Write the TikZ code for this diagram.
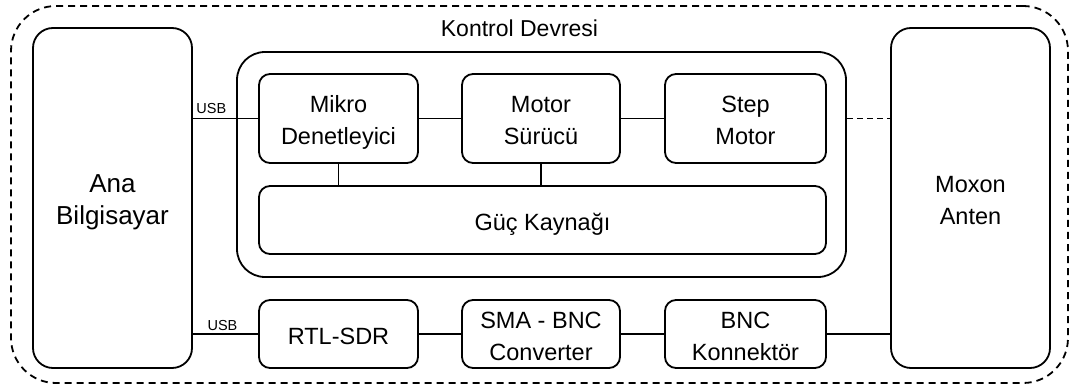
\documentclass[tikz,border=0pt]{standalone}
\usepackage{fontspec}
\setmainfont{Liberation Sans}
\newcommand{\topst}{\rule{0pt}{28pt}}
\newcommand{\botst}{\rule[-7pt]{0pt}{7pt}}
\begin{document}
\begin{tikzpicture}[x=1pt,y=1pt,
  box/.style={draw, line width=1.8pt, rounded corners=11pt, align=center, inner sep=0pt,
    font=\fontsize{23.5pt}{32pt}\selectfont},
  one/.style={box, text height=22pt, text depth=0pt},
  big/.style={box, rounded corners=20pt, minimum width=159pt, minimum height=340pt},
  conn/.style={line width=1.8pt},
  usb/.style={font=\fontsize{14.5pt}{17pt}\selectfont, inner sep=0pt, anchor=base},
]
\useasboundingbox (0,0) rectangle (1074,388);
\fill[white] (0,0) rectangle (1074,388);
% outer dashed frame
\node[draw, line width=1.8pt, dash pattern=on 7pt off 5pt, rounded corners=45pt,
  minimum width=1057pt, minimum height=377pt, inner sep=0pt] (frame) at (539.5,193.5) {};
\node[usb, font=\fontsize{23pt}{28pt}\selectfont] (klabel) at (519.5,351.3) {Kontrol Devresi};
% big side boxes
\node[big, font=\fontsize{26pt}{32pt}\selectfont] (ana) at (112.5,190) {\topst Ana\\Bilgisayar\botst};
\node[big] (moxon) at (970.5,190) {\topst Moxon\\Anten\botst};
% control circuit
\node[draw, line width=1.8pt, rounded corners=28pt, minimum width=609pt, minimum height=225pt] (kontrol) at (541.5,223.5) {};
\node[box, minimum width=159pt, minimum height=89pt] (mikro) at (338.5,269.5) {\topst Mikro\\Denetleyici\botst};
\node[box, minimum width=158pt, minimum height=89pt] (motor) at (541,269.5) {\topst Motor\\Sürücü\botst};
\node[box, minimum width=161pt, minimum height=89pt] (step) at (745.5,269.5) {\topst Step\\Motor\botst};
\node[one, minimum width=567pt, minimum height=68pt] (guc) at (542.5,168) {Güç Kaynağı};
% bottom row
\node[one, minimum width=159pt, minimum height=68pt] (rtl) at (338.5,54) {RTL-SDR};
\node[box, minimum width=158pt, minimum height=68pt] (sma) at (541,54) {\topst SMA - BNC\\Converter\botst};
\node[box, minimum width=161pt, minimum height=68pt] (bnc) at (745.5,54) {\topst BNC\\Konnektör\botst};
% connectors
\draw[conn] (ana.east |- mikro.west) -- (mikro.west);
\draw[conn] (mikro) -- (motor);
\draw[conn] (motor) -- (step);
\draw[conn] (mikro.south) -- (mikro.south |- guc.north);
\draw[conn] (motor.south) -- (motor.south |- guc.north);
\draw[conn, dash pattern=on 6pt off 4pt] (kontrol.east |- step.east) -- (moxon.west |- step.east);
\draw[conn] (ana.east |- rtl.west) -- (rtl.west);
\draw[conn] (rtl) -- (sma);
\draw[conn] (sma) -- (bnc);
\draw[conn] (bnc.east) -- (moxon.west |- bnc.east);
\node[usb] (usbA) at (211.3,274.7) {USB};
\node[usb] (usbB) at (222.5,57.3) {USB};
\end{tikzpicture}
\end{document}
